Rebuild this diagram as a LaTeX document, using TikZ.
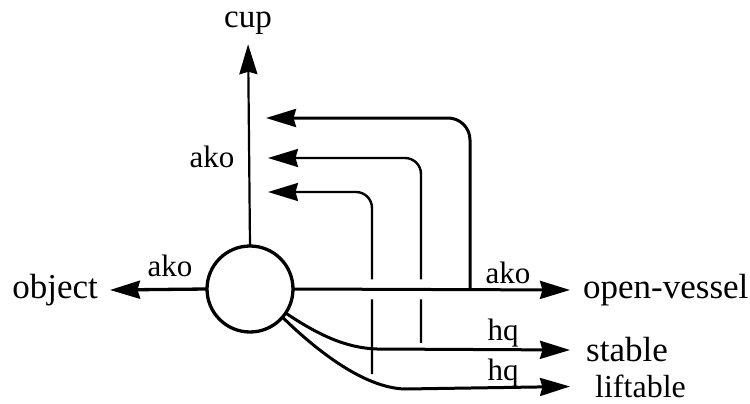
\documentclass[tikz,border=0pt]{standalone}
\usepackage{fontspec}
\setmainfont{Liberation Serif}
\usetikzlibrary{arrows.meta}
\begin{document}
\begin{tikzpicture}[x=1pt,y=-1pt,
  arr/.style={-{Stealth[length=30pt,width=18pt,inset=2.5pt]}},
  thickline/.style={line width=3pt},
  thinline/.style={line width=2.4pt},
  concepttext/.style={font=\fontsize{35}{35}\selectfont, inner sep=0pt},
  reltext/.style={font=\fontsize{31}{31}\selectfont, inner sep=0pt},
  gapline/.style={draw=white, line width=#1}]
  \useasboundingbox[fill=white] (0,0) rectangle (750,404);

  % concept node and the concepts around it
  \node[circle, minimum size=86pt, inner sep=0pt] (circ) at (250,289) {};
  \node[concepttext, font=\fontsize{33}{33}\selectfont, anchor=base] (cup) at (248,28) {cup};
  \node[concepttext, anchor=east, inner xsep=12pt] (object) at (110,290) {object};
  \node[concepttext, anchor=west, inner xsep=13pt] (ov) at (570,290) {open-vessel};
  \node[concepttext, anchor=west, inner xsep=16pt] (stable) at (570,350) {stable};
  \node[concepttext, font=\fontsize{32}{32}\selectfont, anchor=west, inner xsep=25pt] (lift) at (570,386.5) {liftable};

  % points where the back links leave and meet the links
  \coordinate (o1) at (470,290);
  \coordinate (s1) at (421,349);
  \coordinate (l1) at (372,374);
  \coordinate (c1) at (266,118);
  \coordinate (c2) at (268,158);
  \coordinate (c3) at (268,192);

  % back links from the lower links up to the cup link
  \draw[thinline, arr, rounded corners=16pt] (s1) |- (c2);
  \draw[thinline, arr, rounded corners=16pt] (l1) |- (c3);

  % breaks where those links pass behind horizontal links
  \draw[gapline=20pt] (circ.east) -- (ov.west);
  \draw[gapline=12pt] (377,349) -- (stable.west);

  % the concept node
  \draw[line width=3.3pt] (circ) circle[radius=43pt];

  % ako / hq links
  \draw[line width=2.2pt, arr, shorten >=9pt] (circ.north) -- (cup.south);
  \draw[line width=3.3pt, arr] (circ.west) -- (object.east);
  \draw[thickline, arr] (circ.east) -- (ov.west);
  \draw[thickline, arr] (circ.-34) .. controls (317,334) and (345,348) .. (377,349) -- (stable.west);
  \draw[thickline, arr] (circ.-41) .. controls (318,352) and (365,388) .. (405,389) -- (lift.west);
  \draw[thickline, arr, rounded corners=22pt] (o1) |- (c1);

  % link labels
  \node[reltext] (l-cup) at (212,157) {ako};
  \node[reltext] (l-obj) at (170,266) {ako};
  \node[reltext] (l-ov) at (508,273) {ako};
  \node[reltext] (l-st) at (503,333) {hq};
  \node[reltext] (l-li) at (503,373) {hq};
\end{tikzpicture}
\end{document}
